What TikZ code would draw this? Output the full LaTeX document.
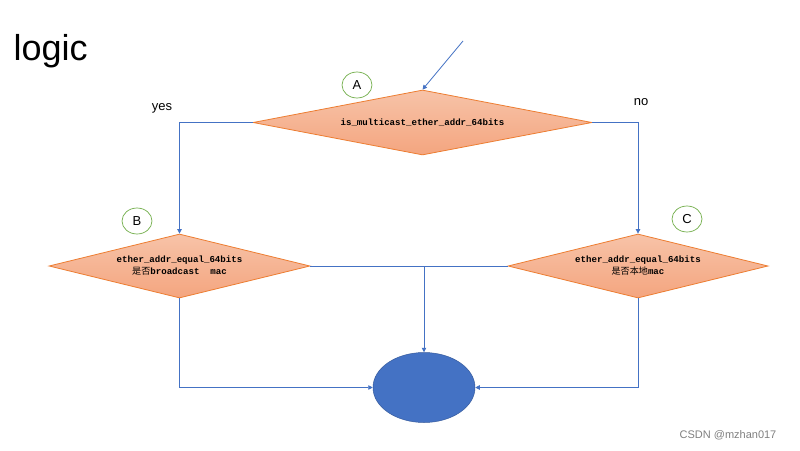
\documentclass[tikz,border=0pt]{standalone}
\usepackage{fontspec}
\setmainfont{Liberation Sans}
\newfontfamily\monob{Liberation Mono}
\newfontfamily\cjk{Noto Sans CJK SC}
\usetikzlibrary{shapes.geometric,arrows.meta}
\definecolor{lnblue}{HTML}{4472C4}
\definecolor{dorange}{HTML}{ED7D31}
\definecolor{ltop}{HTML}{F7C3A8}
\definecolor{lbot}{HTML}{F4A57F}
\definecolor{lgreen}{HTML}{70AD47}
\begin{document}
\begin{tikzpicture}[x=1pt,y=-1pt,
  dec/.style={diamond,draw=dorange,line width=0.8pt,top color=ltop,bottom color=lbot,
     minimum width=#1,minimum height=64pt,aspect=4,inner sep=0pt,align=center,
     font=\monob\bfseries\fontsize{9.1}{12}\selectfont},
  tag/.style={ellipse,draw=lgreen,line width=0.7pt,minimum width=30pt,minimum height=26pt,inner sep=0pt,
     font=\fontsize{13}{13}\selectfont},
  conn/.style={draw=lnblue,line width=0.8pt},
  arr/.style={conn,-{Triangle[length=4.5pt,width=4.5pt]}},
  lbl/.style={font=\fontsize{13}{13}\selectfont}]
\path[use as bounding box,fill=white] (0,0) rectangle (800,450);
\node[anchor=base west,font=\fontsize{36}{36}\selectfont] (title) at (10,60) {logic};
\coordinate (start) at (463,41);
\node[dec=339pt,minimum height=65pt] (A) at (422.5,122.5) {is\_multicast\_ether\_addr\_64bits};
\node[dec=261pt] (B) at (179.5,266) {ether\_addr\_equal\_64bits\\{\cjk\mdseries 是否}broadcast\ \ mac};
\node[dec=260pt] (C) at (638,266) {ether\_addr\_equal\_64bits\\{\cjk\mdseries 是否本地}mac};
\node[ellipse,fill=lnblue,draw=lnblue!80!black,line width=0.5pt,minimum width=102pt,minimum height=70pt,inner sep=0pt] (E) at (424,387.5) {};
\node[tag] (tA) at (357,85) {A};
\node[tag] (tB) at (137,221) {B};
\node[tag] (tC) at (687,219) {C};
\node[lbl] (yes) at (162,108) {yes};
\node[lbl] (no) at (641,102) {no};
\node[font=\fontsize{11}{11}\selectfont,text=black!50] (wm) at (728,435) {CSDN @mzhan017};
\draw[arr] (start) -- (A.north);
\draw[arr] (A.west) -| (B.north);
\draw[arr] (A.east) -| (C.north);
\draw[conn] (B.east) -- (C.west);
\coordinate (mid) at (E.north |- B.east);
\draw[arr] (mid) -- (E.north);
\draw[arr] (B.south) |- (E.west);
\draw[arr] (C.south) |- (E.east);
\end{tikzpicture}
\end{document}
